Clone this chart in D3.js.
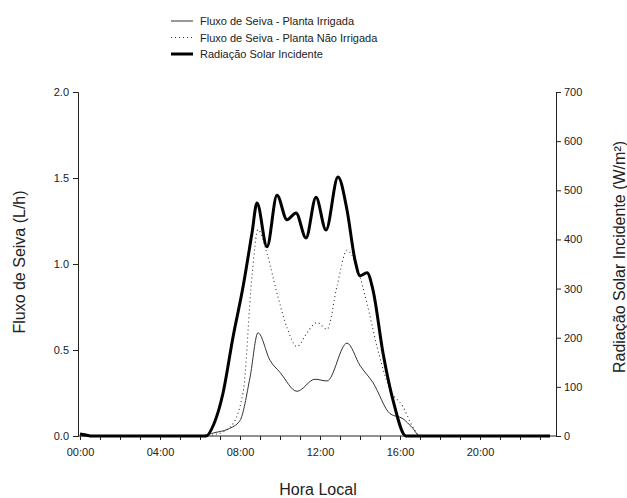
<!DOCTYPE html>
<html>
<head>
<meta charset="utf-8">
<script src="https://cdn.jsdelivr.net/npm/d3@7"></script>
<style>
  body { margin: 0; background: #fff; }
  text { font-family: "Liberation Sans", Arial, sans-serif; fill: #222; }
</style>
</head>
<body>
<div id="chart"></div>
<script>
const width = 627;
const height = 498;

// hours of the day (decimal) and values
const irrigadaHora = [0, 6.0, 6.75, 7.4, 8.0, 8.5, 8.9, 9.5, 10.0, 10.85, 11.75, 12.35, 13.35, 14.0, 14.65, 15.5, 16.15, 16.6, 17.0, 23.5];
const irrigadaFluxo = [0, 0, 0.02, 0.04, 0.09, 0.34, 0.60, 0.44, 0.37, 0.26, 0.33, 0.32, 0.54, 0.41, 0.31, 0.13, 0.10, 0.05, 0, 0];

const naoIrrigadaHora = [0, 6.2, 6.8, 7.5, 8.15, 8.6, 8.9, 9.35, 9.85, 10.35, 10.85, 11.35, 11.85, 12.35, 12.85, 13.35, 13.85, 14.35, 14.85, 15.5, 16.15, 16.65, 17.0, 23.5];
const naoIrrigadaFluxo = [0, 0, 0.01, 0.05, 0.25, 0.93, 1.20, 1.06, 0.83, 0.63, 0.52, 0.60, 0.66, 0.62, 0.87, 1.08, 0.98, 0.77, 0.52, 0.27, 0.17, 0.05, 0, 0];

const radHora = [0, 0.3, 0.6, 6.3, 6.7, 7.15, 7.65, 8.15, 8.6, 8.85, 9.35, 9.85, 10.35, 10.8, 11.3, 11.8, 12.3, 12.9, 13.35, 13.75, 14.0, 14.35, 14.65, 15.15, 15.65, 16.3, 16.8, 23.5];
const radValor = [4, 2, 0, 0, 25, 87, 201, 303, 413, 474, 385, 490, 440, 454, 403, 486, 419, 527, 460, 358, 326, 332, 297, 169, 73, 0, 0, 0];

const hourTicks = d3.range(0, 24, 1);
const hourLabels = ["00:00", "04:00", "08:00", "12:00", "16:00", "20:00"];
const fluxoTicks = [0, 0.5, 1.0, 1.5, 2.0];
const radTicks = [0, 100, 200, 300, 400, 500, 600, 700];

const svg = d3.select("#chart").append("svg")
  .attr("width", width)
  .attr("height", height);

const x = d3.scaleLinear().domain([-0.1, 23.8]).range([78, 556]);
const yL = d3.scaleLinear().domain([0, 2]).range([436, 92]);
const yR = d3.scaleLinear().domain([0, 700]).range([436, 92]);

// axes
const xAxis = d3.axisBottom(x)
  .tickValues(hourTicks)
  .tickSize(4)
  .tickFormat(d => (d % 4 === 0 ? hourLabels[d / 4] : ""));
const gx = svg.append("g").attr("transform", "translate(0,436)").call(xAxis);
gx.select(".domain").attr("d", `M${x(-0.1)},0H${x(23.8)}`);

const gl = svg.append("g").attr("transform", "translate(78,0)")
  .call(d3.axisLeft(yL).tickValues(fluxoTicks).tickSize(5).tickFormat(d3.format(".1f")));
const gr = svg.append("g").attr("transform", "translate(556,0)")
  .call(d3.axisRight(yR).tickValues(radTicks).tickSize(5).tickFormat(d3.format("d")));

[gx, gl, gr].forEach(g => {
  g.selectAll("path.domain").attr("stroke", "#222");
  g.selectAll(".tick line").attr("stroke", "#222");
  g.selectAll(".tick text").attr("font-size", 11).attr("fill", "#333")
    .attr("font-family", "'Liberation Sans', Arial, sans-serif");
});
gx.selectAll(".tick text").attr("dy", "1.2em");
gl.selectAll(".tick text").attr("x", -9);
gr.selectAll(".tick text").attr("x", 8);

// lines
const lineL = (hs, vs) => d3.line()
  .x((d, i) => x(hs[i]))
  .y(d => yL(d))
  .curve(d3.curveMonotoneX)(vs);

svg.append("path").attr("d", lineL(naoIrrigadaHora, naoIrrigadaFluxo))
  .attr("fill", "none").attr("stroke", "#333").attr("stroke-width", 1.1)
  .attr("stroke-dasharray", "1,3");

svg.append("path").attr("d", lineL(irrigadaHora, irrigadaFluxo))
  .attr("fill", "none").attr("stroke", "#333").attr("stroke-width", 1);

const lineR = d3.line()
  .x((d, i) => x(radHora[i]))
  .y(d => yR(d))
  .curve(d3.curveMonotoneX);
svg.append("path").attr("d", lineR(radValor))
  .attr("fill", "none").attr("stroke", "#000").attr("stroke-width", 3)
  .attr("stroke-linejoin", "round");

// axis titles
svg.append("text").attr("x", 318).attr("y", 495).attr("text-anchor", "middle")
  .attr("font-size", 16).attr("fill", "#333").text("Hora Local");
svg.append("text").attr("transform", "translate(25,262) rotate(-90)")
  .attr("text-anchor", "middle").attr("font-size", 16).attr("fill", "#333")
  .text("Fluxo de Seiva (L/h)");
svg.append("text").attr("transform", "translate(625,257) rotate(-90)")
  .attr("text-anchor", "middle").attr("font-size", 16).attr("fill", "#333")
  .text("Radiação Solar Incidente (W/m²)");

// legend
const legend = [
  { label: "Fluxo de Seiva - Planta Irrigada", w: 1, dash: null, c: "#333" },
  { label: "Fluxo de Seiva - Planta Não Irrigada", w: 1.1, dash: "1,3", c: "#333" },
  { label: "Radiação Solar Incidente", w: 3, dash: null, c: "#000" },
];
legend.forEach((d, i) => {
  const yy = 21 + i * 16.5;
  svg.append("line").attr("x1", 171).attr("x2", 193).attr("y1", yy).attr("y2", yy)
    .attr("stroke", d.c).attr("stroke-width", d.w).attr("stroke-dasharray", d.dash);
  svg.append("text").attr("x", 200).attr("y", yy + 4).attr("font-size", 11)
    .text(d.label);
});
</script>
</body>
</html>
